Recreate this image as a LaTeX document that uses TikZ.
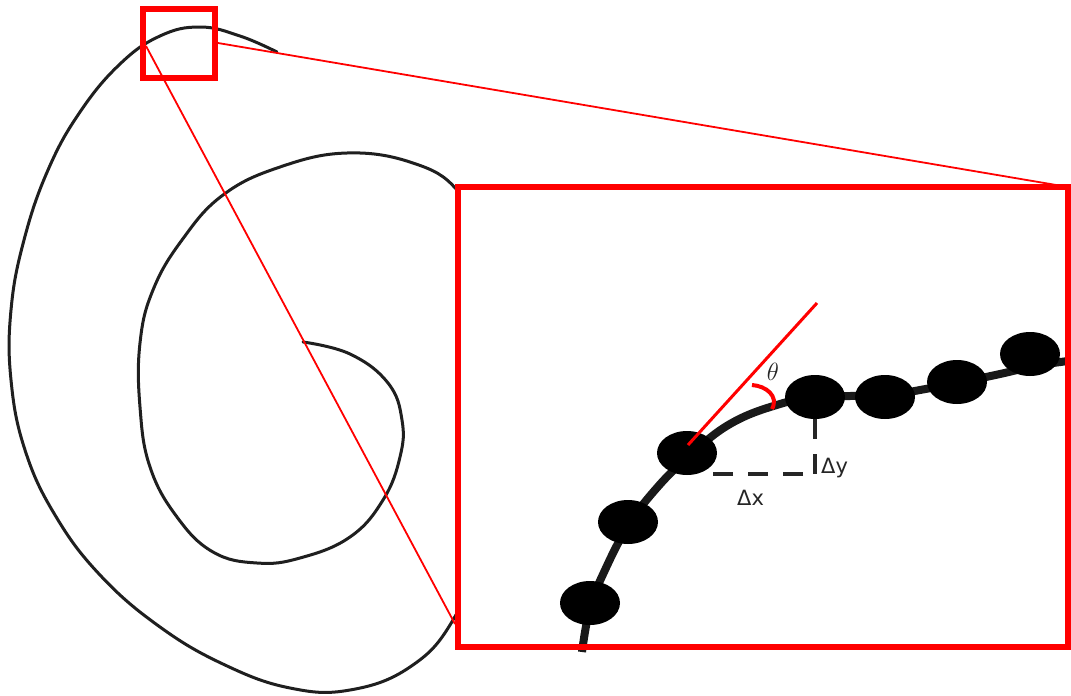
\documentclass[tikz,border=0pt]{standalone}
\usepackage{fontspec}
\newfontfamily\lblfont{DejaVu Sans}
\usetikzlibrary{shapes.geometric}
\begin{document}
\begin{tikzpicture}[x=1pt,y=-1pt,
  spiral/.style={line width=3pt, black!88, line join=round, line cap=round},
  thinred/.style={red, line width=1.8pt},
  zoombox/.style={draw=red, line width=6pt},
  chain/.style={line width=8pt, black!90},
  bead/.style={ellipse, fill=black, minimum width=60pt, minimum height=44pt, inner sep=0pt},
  guide/.style={line width=4pt, black!85, dash pattern=on 20pt off 15pt},
  lbl/.style={inner sep=0pt, anchor=base west, text=black!85, font=\lblfont\fontsize{21}{25}\selectfont}]
\useasboundingbox (0,0) rectangle (1071,696);

% spiral
\draw[spiral] plot[smooth, tension=0.7] coordinates {
 (277,52) (240,36) (200,27) (160,36) (120,64) (80,112) (48,170) (24,240)
 (11,310) (11,380) (25,450) (55,515) (100,575) (160,627) (225,665) (290,688)
 (350,690) (410,667) (453,620) (485,540) (495,440) (492,330) (480,240) (457,190)
 (413,163) (347,153) (280,167) (223,195) (182,240) (153,290) (140,343) (140,407)
 (150,467) (177,517) (213,552) (257,563) (300,558) (350,537) (383,500)
 (400,457) (402,420) (388,383) (350,354) (303,342)};

% zoom lines
\coordinate (sbTR) at (218,43);
\coordinate (sbL) at (146,46);
\coordinate (bbTR) at (1068,187);
\coordinate (bbL) at (455,624);
\draw[thinred] (sbTR) -- (bbTR);
\draw[thinred] (sbL) -- (bbL);

% small box
\draw[zoombox] (143,9) rectangle (215,78);

% big box background
\fill[white] (458,187) rectangle (1068,647);

% chain
\draw[chain] plot[smooth, tension=0.7] coordinates {
 (582,652) (590,608) (605,570) (628,526) (655,490) (687,458)
 (730,424) (780,404) (815,398) (850,396) (885,396) (920,390)
 (957,383) (1000,374) (1035,366) (1068,361)};

\node[bead] (b1) at (590,603) {};
\node[bead] (b2) at (628,522) {};
\node[bead] (b3) at (687,453) {};
\node[bead] (b4) at (815,397) {};
\node[bead] (b5) at (885,397) {};
\node[bead] (b6) at (957,382) {};
\node[bead] (b7) at (1030,354) {};

% tangent and angle
\coordinate (tanEnd) at (817,303);
\draw[red, line width=3pt] (688,445) -- (tanEnd);
\draw[red, line width=4pt] (752,385) .. controls (766,386) and (779,396) .. (772,409);
\node[inner sep=0pt, text=black!85, font=\fontsize{27}{30}\selectfont] (theta) at (773,372) {$\theta$};

% delta guides
\coordinate (gx1) at (803,474);
\coordinate (gx2) at (713,474);
\coordinate (gy1) at (815,419);
\coordinate (gy2) at (815,474);
\draw[guide] (gx1) -- (gx2);
\draw[guide] (gy1) -- (gy2);
\node[lbl] (dx) at (737,505) {Δx};
\node[lbl] (dy) at (821,473) {Δy};

% big box border
\draw[zoombox] (458,187) rectangle (1068,647);
\end{tikzpicture}
\end{document}
